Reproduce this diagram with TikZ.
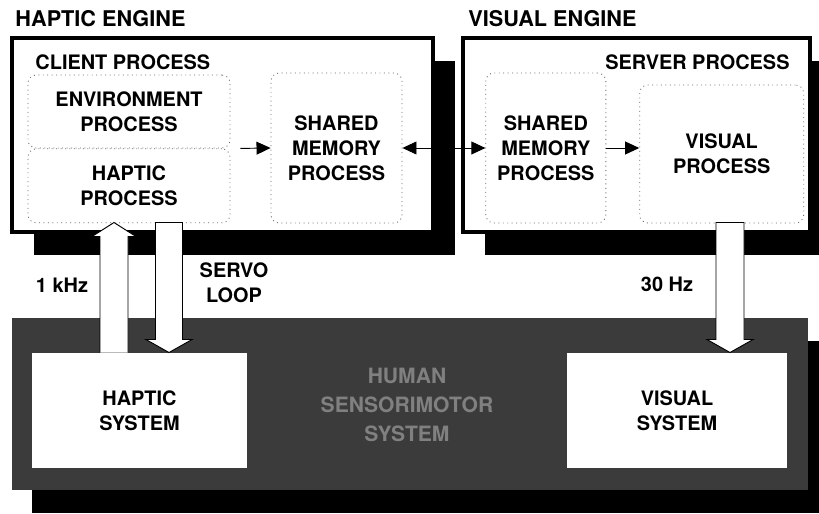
\documentclass[tikz,border=0pt]{standalone}
\usepackage{fontspec}
\setmainfont{TeX Gyre Heros}
\usepackage{tikz}
\usetikzlibrary{shapes,arrows.meta,shadows,positioning,calc}
\newcommand{\lblfont}{\fontsize{17}{21.5}\selectfont\bfseries}
\newcommand{\ttlfont}{\fontsize{18.5}{22}\selectfont\bfseries}
\tikzstyle{engine} = [draw, line width=3.4pt, fill=white, inner sep=0,
  drop shadow={shadow xshift=0.66cm, shadow yshift=-0.69cm, fill=black, opacity=1}]
\tikzstyle{human} = [fill=black!77, inner sep=0,
  drop shadow={shadow xshift=0.6cm, shadow yshift=-0.69cm, fill=black, opacity=1}]
\tikzstyle{proc} = [draw=black!60, dash pattern=on 0.8pt off 3pt, line width=0.7pt,
  rounded corners=7pt, align=center, font=\lblfont, inner sep=0]
\tikzstyle{sys} = [fill=white, align=center, font=\lblfont, inner sep=0]
\tikzstyle{lbl} = [align=center, font=\lblfont, inner sep=0]
\tikzstyle{ttl} = [font=\ttlfont, inner sep=0]
\tikzstyle{blockarr} = [draw, fill=white, line width=0.8pt]

\begin{document}
\begin{tikzpicture}[x=0.03cm,y=-0.03cm,>={Triangle[length=12pt,width=11pt]},
  line width=0.8pt]
\useasboundingbox (0,0) rectangle (819,514);

% the two engines
\node[ttl, anchor=base west] (hapttl) at (15,27) {HAPTIC ENGINE};
\node[ttl, anchor=base west] (visttl) at (468,27) {VISUAL ENGINE};
\node[engine, minimum width=12.63cm, minimum height=5.82cm] (haptic) at (222.5,135) {};
\node[engine, minimum width=10.41cm, minimum height=5.82cm] (visual) at (636.5,135) {};

% the human side
\node[human, minimum width=23.88cm, minimum height=5.16cm] (human) at (410,404) {};
\node[lbl, text=black!50, font=\fontsize{18}{25}\selectfont\bfseries] (hsm) at (407,405)
  {HUMAN\\SENSORIMOTOR\\SYSTEM};

% processes
\node[lbl, anchor=base west] (client) at (35,70) {CLIENT PROCESS};
\node[lbl, anchor=base east] (server) at (790,70) {SERVER PROCESS};
\node[proc, minimum width=6.06cm, minimum height=2.19cm] (envbox) at (129,111.5)
  {ENVIRONMENT\\PROCESS};
\node[proc, minimum width=6.06cm, minimum height=2.22cm, below=0pt of envbox] (hapbox)
  {HAPTIC\\PROCESS};
\node[proc, minimum width=3.93cm, minimum height=4.5cm] (smemH) at (336.5,148)
  {SHARED\\MEMORY\\PROCESS};
\node[proc, minimum width=3.6cm, minimum height=4.5cm, right=2.49cm of smemH] (smemV)
  {SHARED\\MEMORY\\PROCESS};
\node[proc, minimum width=4.92cm, minimum height=4.14cm, right=0.99cm of smemV,
  yshift=-0.18cm] (visproc) {VISUAL\\PROCESS};

\draw[->] ([xshift=0.3cm]envbox.south east) -- (smemH.west);
\draw[<->] (smemH.east) -- (smemV.west);
\draw[->] (smemV.east) -- (smemV.east -| visproc.west);

% systems and loops
\node[sys, minimum width=6.45cm, minimum height=3.45cm] (hapsys) at (139.5,410.5)
  {HAPTIC\\SYSTEM};
\node[sys, minimum width=6.6cm, minimum height=3.45cm] (visys) at (677,410.5)
  {VISUAL\\SYSTEM};

\draw[blockarr] ($(hapsys.north)+(-39.5,0)$) -- ++(0,-116) -- ++(-8,0) -- ++(22,-14)
  -- ++(22,14) -- ++(-8,0) -- ++(0,116);
\draw[blockarr] ($(hapsys.north)+(29.5,0)$) -- ++(-23,-13) -- ++(9.5,0) -- ++(0,-117)
  -- ++(27,0) -- ++(0,117) -- ++(9.5,0) -- cycle;
\draw[blockarr] ($(visys.north)+(53,0)$) -- ++(-23,-13) -- ++(9,0) -- ++(0,-117)
  -- ++(28,0) -- ++(0,117) -- ++(9,0) -- cycle;

\node[lbl] (khz) at (62,285) {1 kHz};
\node[lbl] (servo) at (234,283) {SERVO\\LOOP};
\node[lbl] (hz) at (667,284) {30 Hz};

\end{tikzpicture}
\end{document}
